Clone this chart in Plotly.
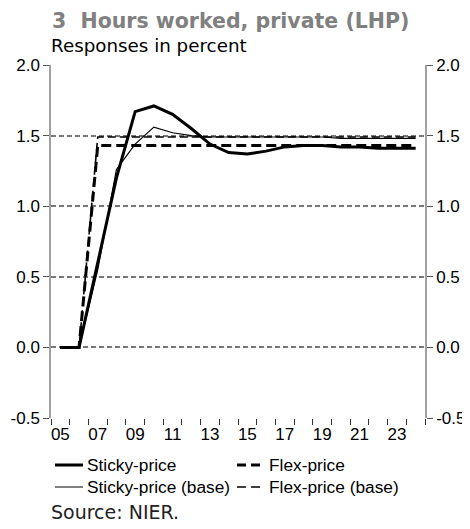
import plotly.graph_objects as go

years = ["05","06","07","08","09","10","11","12","13","14","15","16","17","18","19","20","21","22","23","24"]
sticky = [0, 0, 0.60, 1.20, 1.67, 1.71, 1.65, 1.55, 1.44, 1.38, 1.37, 1.39, 1.42, 1.43, 1.43, 1.42, 1.42, 1.41, 1.41, 1.41]
sticky_base = [0, 0, 0.55, 1.26, 1.44, 1.56, 1.52, 1.50, 1.49, 1.49, 1.49, 1.49, 1.49, 1.49, 1.49, 1.48, 1.48, 1.48, 1.48, 1.48]
flex = [0, 0, 1.43, 1.43, 1.43, 1.43, 1.43, 1.43, 1.43, 1.43, 1.43, 1.43, 1.43, 1.43, 1.43, 1.43, 1.43, 1.43, 1.43, 1.43]
flex_base = [0, 0, 1.49, 1.49, 1.49, 1.49, 1.49, 1.49, 1.49, 1.49, 1.49, 1.49, 1.49, 1.49, 1.49, 1.49, 1.49, 1.49, 1.49, 1.49]
xlabels = ["05","07","09","11","13","15","17","19","21","23"]
yticks = [-0.5, 0.0, 0.5, 1.0, 1.5, 2.0]
legend_names = ["Sticky-price", "Flex-price", "Sticky-price (base)", "Flex-price (base)"]

# page has an 8px body margin, so the figure is 8px smaller and offset
OFF = 8
W, H = 470 - OFF, 529 - OFF
L, T = 51 - OFF, 65 - OFF
R = W - (425 - OFF)
B = H - (418 - OFF)
PW, PH = W - L - R, H - T - B

xi = list(range(len(years)))

styles = [
    dict(color="black", width=3),
    dict(color="black", width=3, dash="10px,5px"),
    dict(color="black", width=1.2),
    dict(color="black", width=1.6, dash="8px,4px"),
]
series = [sticky, flex, sticky_base, flex_base]

fig = go.Figure()
for name, ys, st in zip(legend_names, series, styles):
    fig.add_trace(go.Scatter(x=xi, y=ys, name=name, mode="lines", line=st, showlegend=False))

# invisible trace for right axis
fig.add_trace(go.Scatter(x=[0], y=[0], yaxis="y2", showlegend=False, hoverinfo="skip",
                         mode="markers", marker=dict(opacity=0)))
# invisible trace for boundary tick axis
fig.add_trace(go.Scatter(x=[0], y=[0], xaxis="x2", showlegend=False, hoverinfo="skip",
                         mode="markers", marker=dict(opacity=0)))

def px(xp):
    return (xp - OFF - L) / PW

def py(yp):
    return (H - B - (yp - OFF)) / PH

tickfont = dict(family="Liberation Sans, Arial", size=17, color="black")
ytext = [f"{v:.1f}" for v in yticks]

# manual legend (2 columns)
shapes = []
annotations = []
legend_pos = [(55, 465), (237, 465), (55, 487), (237, 487)]
legend_sym = [
    dict(color="black", width=3),
    dict(color="black", width=3, dash="9px,5px"),
    dict(color="#555555", width=1.5),
    dict(color="black", width=1.6, dash="9px,5px"),
]
for name, (lx, ly), st in zip(legend_names, legend_pos, legend_sym):
    shapes.append(dict(type="line", xref="paper", yref="paper",
                       x0=px(lx), x1=px(lx + 28), y0=py(ly), y1=py(ly), line=st))
    annotations.append(dict(text=name, xref="paper", yref="paper", x=px(lx + 30), y=py(ly),
                            xanchor="left", yanchor="middle", showarrow=False,
                            font=dict(family="Liberation Sans, Arial", size=17.3, color="black")))

annotations += [
    dict(text="<b>3  Hours worked, private (LHP)</b>", xref="paper", yref="paper",
         x=px(50), y=py(21), xanchor="left", yanchor="middle", showarrow=False,
         font=dict(family="DejaVu Sans", size=20.5, color="#808080")),
    dict(text="Responses in percent", xref="paper", yref="paper",
         x=px(49), y=py(45), xanchor="left", yanchor="middle", showarrow=False,
         font=dict(family="DejaVu Sans", size=18.3, color="black")),
    dict(text="Source: NIER.", xref="paper", yref="paper",
         x=px(49), y=py(512), xanchor="left", yanchor="middle", showarrow=False,
         font=dict(family="DejaVu Sans", size=19, color="#222222")),
]

fig.update_layout(
    width=W, height=H,
    margin=dict(l=L, r=R, t=T, b=B, autoexpand=False),
    plot_bgcolor="white", paper_bgcolor="white",
    showlegend=False,
    xaxis=dict(range=[-0.5, 19.5], tickmode="array",
               tickvals=[years.index(l) for l in xlabels], ticktext=xlabels,
               ticks="", showgrid=False, zeroline=False, showline=False,
               ticklabelstandoff=4,
               tickfont=tickfont, automargin=False),
    xaxis2=dict(range=[-0.5, 19.5], overlaying="x", anchor="y", side="bottom",
                tickmode="array", tickvals=[i - 0.5 for i in range(len(years) + 1)],
                ticks="outside", ticklen=6, tickcolor="#333333", tickwidth=1,
                showticklabels=False, showgrid=False, zeroline=False, showline=False,
                automargin=False),
    yaxis=dict(range=[-0.5, 2.0], tickmode="array", tickvals=yticks, ticktext=ytext,
               ticks="outside", ticklen=6, tickcolor="#555555",
               showgrid=True, gridcolor="#787878", gridwidth=1.5, griddash="5px,3px",
               zeroline=False, showline=True, linecolor="#a0a0a0", linewidth=1.5,
               tickfont=tickfont, automargin=False),
    yaxis2=dict(range=[-0.5, 2.0], tickmode="array", tickvals=yticks, ticktext=ytext,
                overlaying="y", side="right", anchor="x",
                ticks="outside", ticklen=6, tickcolor="#555555",
                showgrid=False, zeroline=False, showline=True, linecolor="#a0a0a0", linewidth=1.5,
                tickfont=tickfont, automargin=False),
    shapes=shapes,
    annotations=annotations,
)

fig.write_html("out.html")
